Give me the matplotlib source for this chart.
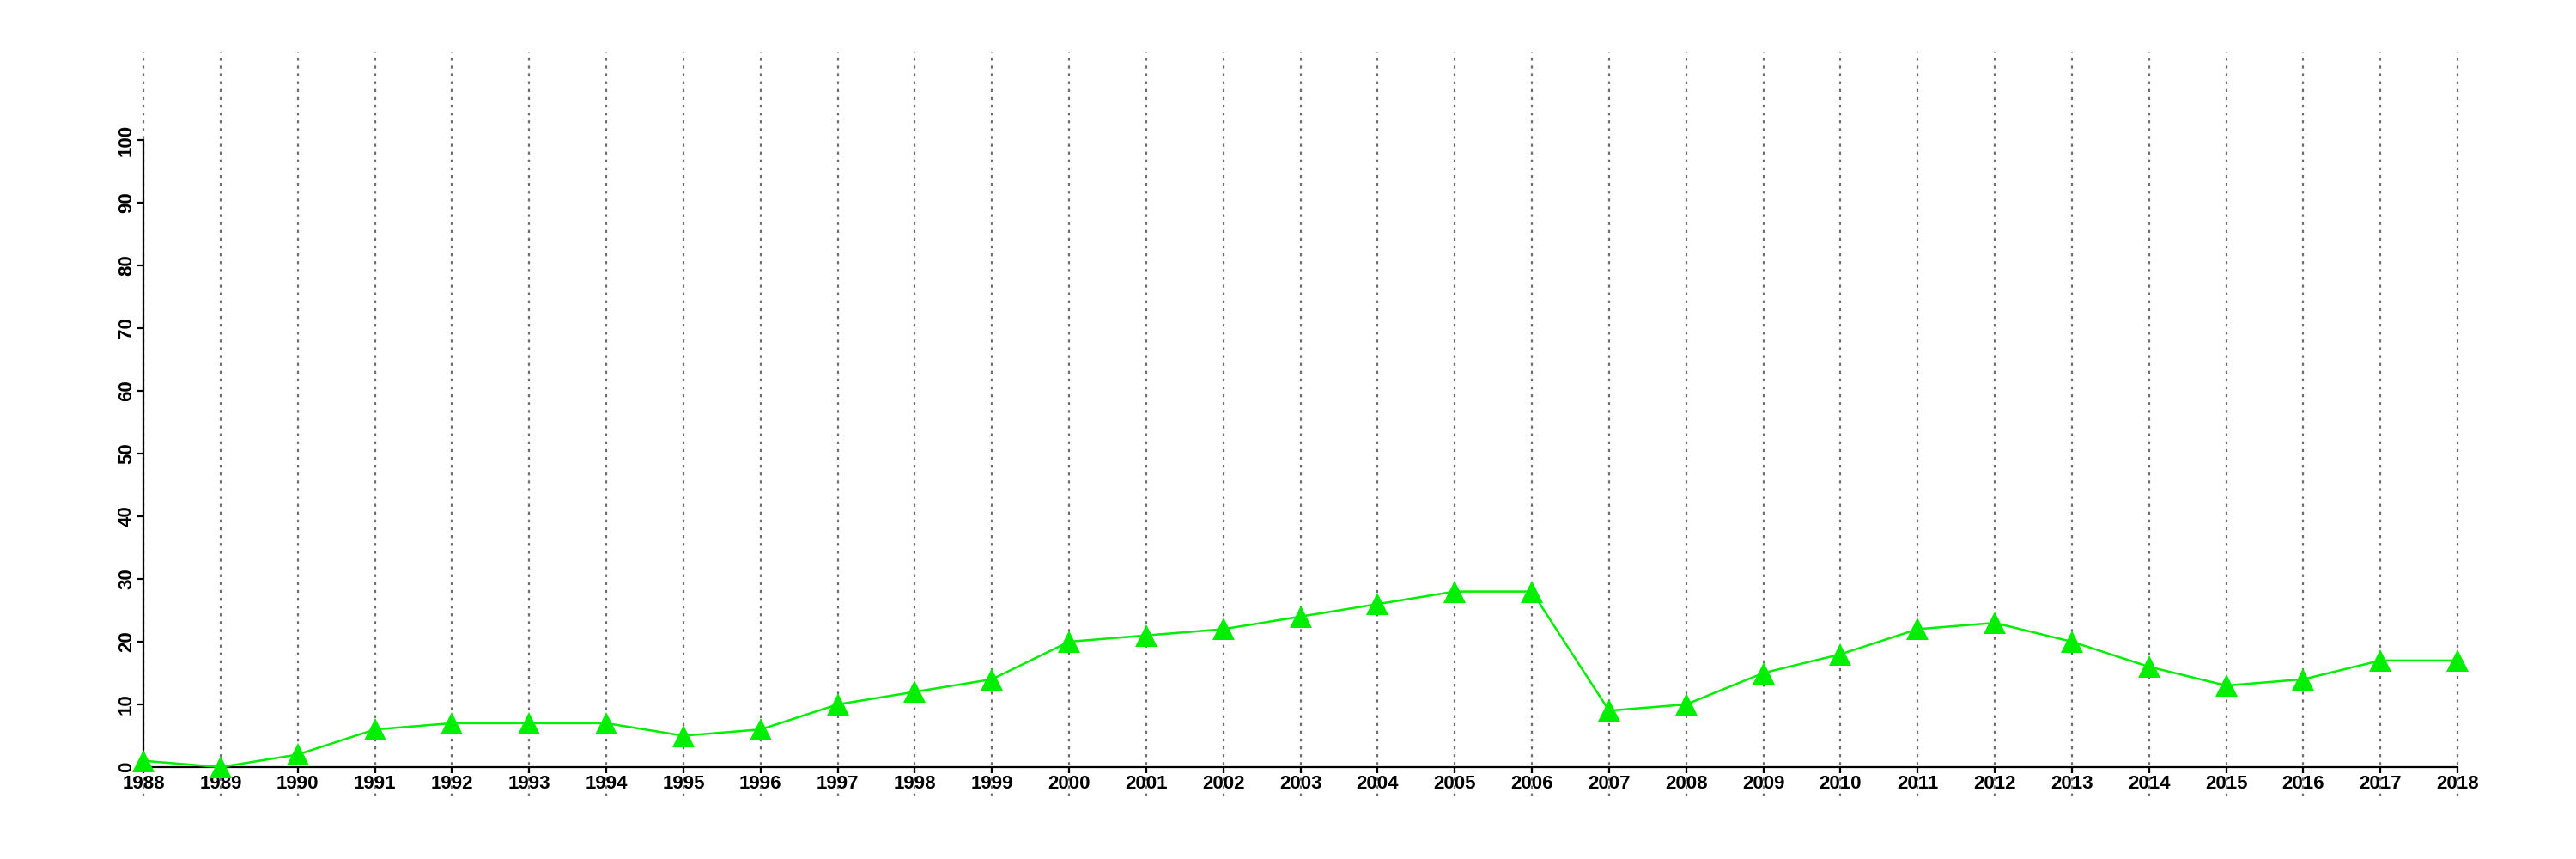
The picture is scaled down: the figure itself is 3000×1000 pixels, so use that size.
import numpy as np
import matplotlib.pyplot as plt

plt.rcParams['font.family'] = ['Liberation Sans', 'DejaVu Sans']

years = list(range(1988, 2019))
values = [1, 0, 2, 6, 7, 7, 7, 5, 6, 10, 12, 14, 20, 21, 22, 24, 26, 28, 28,
          9, 10, 15, 18, 22, 23, 20, 16, 13, 14, 17, 17]
y_ticks = list(range(0, 101, 10))

fig = plt.figure(figsize=(30, 10), dpi=100)
ax = fig.add_axes([0.0557, 0.107, 0.8983, 0.730])

ax.set_xlim(1988, 2018)
ax.set_ylim(0, 100)

# dotted vertical guides, running past the plot area like the original
ax.vlines(years, -4.7, 114.1, colors='#6e6e6e', linestyles=(0, (1.5, 2.6)),
          linewidth=1.6, clip_on=False, zorder=1)

ax.plot(years, values, color='#00ee00', linewidth=1.8, marker='^',
        markersize=19, markeredgewidth=0, clip_on=False, zorder=3)

for s in ['top', 'right']:
    ax.spines[s].set_visible(False)
ax.spines['left'].set_linewidth(1.6)
ax.spines['bottom'].set_linewidth(1.6)

ax.set_xticks(years)
ax.set_xticklabels([str(y) for y in years], fontsize=16, fontweight='bold')
ax.set_yticks(y_ticks)
ax.set_yticklabels([str(v) for v in y_ticks], fontsize=16, fontweight='bold',
                   rotation=90, va='center')
ax.tick_params(axis='both', length=5, width=1.6, pad=1.5)

fig.savefig('out.png', dpi=100)
